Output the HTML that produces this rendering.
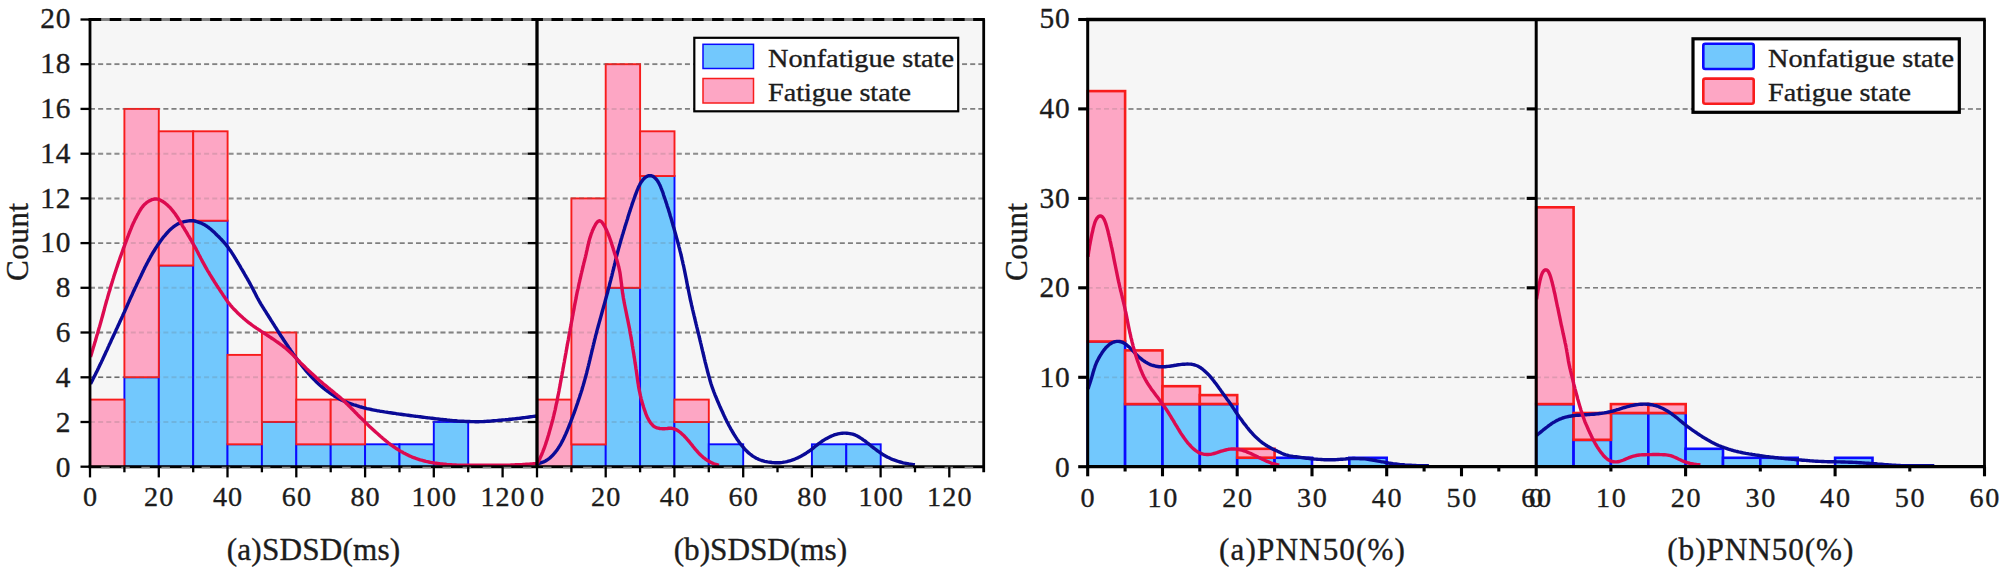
<!DOCTYPE html>
<html><head><meta charset="utf-8"><title>Histograms</title>
<style>
html,body{margin:0;padding:0;background:#fff;}
body{width:2007px;height:576px;overflow:hidden;}
svg text{font-family:"Liberation Serif", "DejaVu Serif", serif;fill:#1c1c1c;stroke:#1c1c1c;stroke-width:0.35px;}
.tk{font-size:28.2px;letter-spacing:1.6px;}
.tky{font-size:29.4px;letter-spacing:0.8px;}
.ti{font-size:31.2px;}
.lg{font-size:24.6px;}
</style></head><body>
<svg width="2007" height="576" viewBox="0 0 2007 576" style="display:block">
<rect width="2007" height="576" fill="#fff"/>
<rect x="90" y="19.5" width="893.7" height="447.2" fill="#f6f6f6"/>
<line x1="90" x2="983.7" y1="422.0" y2="422.0" stroke="#999" stroke-width="2" stroke-dasharray="5 3.15"/>
<line x1="90" x2="983.7" y1="377.3" y2="377.3" stroke="#6e6e6e" stroke-width="1.4" stroke-dasharray="5 3.15"/>
<line x1="90" x2="983.7" y1="332.5" y2="332.5" stroke="#8a8a8a" stroke-width="1.8" stroke-dasharray="5 3.15"/>
<line x1="90" x2="983.7" y1="287.8" y2="287.8" stroke="#999" stroke-width="2" stroke-dasharray="5 3.15"/>
<line x1="90" x2="983.7" y1="243.1" y2="243.1" stroke="#626262" stroke-width="1.2" stroke-dasharray="5 3.15"/>
<line x1="90" x2="983.7" y1="198.4" y2="198.4" stroke="#999" stroke-width="2" stroke-dasharray="5 3.15"/>
<line x1="90" x2="983.7" y1="153.7" y2="153.7" stroke="#999" stroke-width="2" stroke-dasharray="5 3.15"/>
<line x1="90" x2="983.7" y1="108.9" y2="108.9" stroke="#626262" stroke-width="1.2" stroke-dasharray="5 3.15"/>
<line x1="90" x2="983.7" y1="64.2" y2="64.2" stroke="#8a8a8a" stroke-width="1.8" stroke-dasharray="5 3.15"/>
<rect x="124.4" y="377.3" width="34.4" height="89.4" fill="#72c8fd" stroke="#0a0aff" stroke-width="1.9"/>
<rect x="158.8" y="265.5" width="34.4" height="201.2" fill="#72c8fd" stroke="#0a0aff" stroke-width="1.9"/>
<rect x="193.2" y="220.7" width="34.4" height="246.0" fill="#72c8fd" stroke="#0a0aff" stroke-width="1.9"/>
<rect x="227.5" y="444.3" width="34.4" height="22.4" fill="#72c8fd" stroke="#0a0aff" stroke-width="1.9"/>
<rect x="261.9" y="422.0" width="34.4" height="44.7" fill="#72c8fd" stroke="#0a0aff" stroke-width="1.9"/>
<rect x="296.3" y="444.3" width="34.4" height="22.4" fill="#72c8fd" stroke="#0a0aff" stroke-width="1.9"/>
<rect x="330.7" y="444.3" width="34.4" height="22.4" fill="#72c8fd" stroke="#0a0aff" stroke-width="1.9"/>
<rect x="365.1" y="444.3" width="34.4" height="22.4" fill="#72c8fd" stroke="#0a0aff" stroke-width="1.9"/>
<rect x="399.5" y="444.3" width="34.4" height="22.4" fill="#72c8fd" stroke="#0a0aff" stroke-width="1.9"/>
<rect x="433.8" y="422.0" width="34.4" height="44.7" fill="#72c8fd" stroke="#0a0aff" stroke-width="1.9"/>
<rect x="90.0" y="399.6" width="34.4" height="67.1" fill="#fda6c4" stroke="#f81c1c" stroke-width="1.9"/>
<rect x="124.4" y="108.9" width="34.4" height="268.3" fill="#fda6c4" stroke="#f81c1c" stroke-width="1.9"/>
<rect x="158.8" y="131.3" width="34.4" height="134.2" fill="#fda6c4" stroke="#f81c1c" stroke-width="1.9"/>
<rect x="193.2" y="131.3" width="34.4" height="89.4" fill="#fda6c4" stroke="#f81c1c" stroke-width="1.9"/>
<rect x="227.5" y="354.9" width="34.4" height="89.4" fill="#fda6c4" stroke="#f81c1c" stroke-width="1.9"/>
<rect x="261.9" y="332.5" width="34.4" height="89.4" fill="#fda6c4" stroke="#f81c1c" stroke-width="1.9"/>
<rect x="296.3" y="399.6" width="34.4" height="44.7" fill="#fda6c4" stroke="#f81c1c" stroke-width="1.9"/>
<rect x="330.7" y="399.6" width="34.4" height="44.7" fill="#fda6c4" stroke="#f81c1c" stroke-width="1.9"/>
<rect x="571.4" y="444.3" width="34.4" height="22.4" fill="#72c8fd" stroke="#0a0aff" stroke-width="1.9"/>
<rect x="605.7" y="287.8" width="34.4" height="178.9" fill="#72c8fd" stroke="#0a0aff" stroke-width="1.9"/>
<rect x="640.1" y="176.0" width="34.4" height="290.7" fill="#72c8fd" stroke="#0a0aff" stroke-width="1.9"/>
<rect x="674.4" y="422.0" width="34.4" height="44.7" fill="#72c8fd" stroke="#0a0aff" stroke-width="1.9"/>
<rect x="708.8" y="444.3" width="34.4" height="22.4" fill="#72c8fd" stroke="#0a0aff" stroke-width="1.9"/>
<rect x="811.9" y="444.3" width="34.4" height="22.4" fill="#72c8fd" stroke="#0a0aff" stroke-width="1.9"/>
<rect x="846.3" y="444.3" width="34.4" height="22.4" fill="#72c8fd" stroke="#0a0aff" stroke-width="1.9"/>
<rect x="537.0" y="399.6" width="34.4" height="67.1" fill="#fda6c4" stroke="#f81c1c" stroke-width="1.9"/>
<rect x="571.4" y="198.4" width="34.4" height="246.0" fill="#fda6c4" stroke="#f81c1c" stroke-width="1.9"/>
<rect x="605.7" y="64.2" width="34.4" height="223.6" fill="#fda6c4" stroke="#f81c1c" stroke-width="1.9"/>
<rect x="640.1" y="131.3" width="34.4" height="44.7" fill="#fda6c4" stroke="#f81c1c" stroke-width="1.9"/>
<rect x="674.4" y="399.6" width="34.4" height="22.4" fill="#fda6c4" stroke="#f81c1c" stroke-width="1.9"/>
<line x1="90" x2="983.7" y1="422.0" y2="422.0" stroke="#666" stroke-opacity="0.2" stroke-width="2" stroke-dasharray="5 3.15"/>
<line x1="90" x2="983.7" y1="377.3" y2="377.3" stroke="#666" stroke-opacity="0.2" stroke-width="2" stroke-dasharray="5 3.15"/>
<line x1="90" x2="983.7" y1="332.5" y2="332.5" stroke="#666" stroke-opacity="0.2" stroke-width="2" stroke-dasharray="5 3.15"/>
<line x1="90" x2="983.7" y1="287.8" y2="287.8" stroke="#666" stroke-opacity="0.2" stroke-width="2" stroke-dasharray="5 3.15"/>
<line x1="90" x2="983.7" y1="243.1" y2="243.1" stroke="#666" stroke-opacity="0.2" stroke-width="2" stroke-dasharray="5 3.15"/>
<line x1="90" x2="983.7" y1="198.4" y2="198.4" stroke="#666" stroke-opacity="0.2" stroke-width="2" stroke-dasharray="5 3.15"/>
<line x1="90" x2="983.7" y1="153.7" y2="153.7" stroke="#666" stroke-opacity="0.2" stroke-width="2" stroke-dasharray="5 3.15"/>
<line x1="90" x2="983.7" y1="108.9" y2="108.9" stroke="#666" stroke-opacity="0.2" stroke-width="2" stroke-dasharray="5 3.15"/>
<line x1="90" x2="983.7" y1="64.2" y2="64.2" stroke="#666" stroke-opacity="0.2" stroke-width="2" stroke-dasharray="5 3.15"/>
<path d="M90.5,383.9 L91.2,382.6 L91.9,381.2 L92.6,379.9 L93.2,378.6 L93.9,377.2 L94.6,375.9 L95.3,374.5 L95.9,373.2 L96.6,371.9 L97.3,370.5 L97.9,369.2 L98.6,367.8 L99.2,366.5 L99.9,365.1 L100.5,363.8 L101.2,362.4 L101.8,361.1 L102.5,359.7 L103.1,358.3 L103.7,357.0 L104.4,355.6 L105.0,354.3 L105.6,352.9 L106.2,351.5 L106.9,350.2 L107.5,348.8 L108.1,347.4 L108.7,346.1 L109.3,344.7 L110.0,343.3 L110.6,342.0 L111.2,340.6 L111.8,339.2 L112.5,337.9 L113.1,336.5 L113.7,335.2 L114.4,333.8 L115.0,332.4 L115.6,331.1 L116.2,329.7 L116.9,328.3 L117.5,327.0 L118.1,325.6 L118.8,324.3 L119.4,322.9 L120.0,321.5 L120.6,320.2 L121.3,318.8 L121.9,317.4 L122.5,316.1 L123.1,314.7 L123.7,313.3 L124.4,312.0 L125.0,310.6 L125.6,309.2 L126.2,307.9 L126.8,306.5 L127.4,305.1 L128.0,303.7 L128.6,302.4 L129.2,301.0 L129.8,299.6 L130.4,298.3 L131.0,296.9 L131.7,295.5 L132.3,294.2 L132.9,292.8 L133.5,291.4 L134.2,290.1 L134.8,288.7 L135.4,287.4 L136.1,286.0 L136.7,284.6 L137.3,283.3 L138.0,281.9 L138.6,280.6 L139.3,279.2 L139.9,277.9 L140.6,276.5 L141.2,275.2 L141.9,273.8 L142.5,272.4 L143.2,271.1 L143.8,269.7 L144.5,268.4 L145.1,267.0 L145.8,265.7 L146.5,264.4 L147.2,263.0 L147.9,261.7 L148.6,260.4 L149.3,259.1 L150.0,257.8 L150.7,256.4 L151.5,255.1 L152.2,253.8 L153.0,252.5 L153.8,251.3 L154.6,250.0 L155.4,248.7 L156.2,247.4 L157.0,246.2 L157.8,244.9 L158.7,243.7 L159.5,242.5 L160.4,241.2 L161.3,240.0 L162.2,238.8 L163.1,237.6 L164.0,236.4 L165.0,235.3 L166.0,234.1 L167.0,233.0 L168.0,231.9 L169.0,230.8 L170.1,229.8 L171.2,228.8 L172.4,227.8 L173.5,226.8 L174.8,225.9 L176.0,225.1 L177.3,224.3 L178.6,223.6 L179.9,223.0 L181.3,222.5 L182.7,222.1 L184.2,221.7 L185.7,221.4 L187.2,221.1 L188.6,220.9 L190.1,220.8 L191.6,220.7 L193.1,220.8 L194.6,221.0 L196.0,221.4 L197.5,221.8 L198.9,222.3 L200.3,222.8 L201.7,223.4 L203.1,224.1 L204.4,224.7 L205.6,225.5 L206.9,226.3 L208.1,227.1 L209.3,228.1 L210.5,229.0 L211.6,230.0 L212.7,231.0 L213.9,232.1 L215.0,233.1 L216.1,234.2 L217.1,235.2 L218.2,236.2 L219.3,237.3 L220.3,238.4 L221.4,239.5 L222.4,240.6 L223.4,241.7 L224.4,242.8 L225.4,244.0 L226.3,245.1 L227.3,246.3 L228.2,247.5 L229.0,248.7 L229.9,249.9 L230.8,251.1 L231.6,252.4 L232.4,253.6 L233.2,254.9 L234.0,256.2 L234.8,257.5 L235.6,258.7 L236.3,260.0 L237.1,261.3 L237.9,262.6 L238.6,263.9 L239.4,265.2 L240.2,266.5 L240.9,267.8 L241.7,269.1 L242.5,270.4 L243.2,271.7 L244.0,273.0 L244.7,274.3 L245.5,275.6 L246.2,276.9 L247.0,278.2 L247.7,279.5 L248.5,280.8 L249.2,282.1 L249.9,283.4 L250.6,284.7 L251.3,286.0 L252.0,287.4 L252.7,288.7 L253.4,290.0 L254.1,291.4 L254.8,292.7 L255.5,294.1 L256.1,295.4 L256.8,296.7 L257.5,298.0 L258.3,299.4 L259.0,300.7 L259.7,302.0 L260.5,303.3 L261.2,304.6 L262.0,305.8 L262.8,307.1 L263.6,308.4 L264.4,309.7 L265.2,310.9 L266.0,312.2 L266.8,313.5 L267.6,314.7 L268.4,316.0 L269.2,317.3 L270.0,318.5 L270.8,319.8 L271.6,321.1 L272.4,322.3 L273.2,323.6 L274.0,324.9 L274.8,326.2 L275.6,327.4 L276.4,328.7 L277.2,330.0 L278.0,331.2 L278.8,332.5 L279.6,333.8 L280.4,335.0 L281.2,336.3 L282.1,337.5 L282.9,338.8 L283.7,340.0 L284.5,341.3 L285.4,342.5 L286.2,343.8 L287.1,345.0 L287.9,346.3 L288.7,347.5 L289.6,348.7 L290.4,350.0 L291.3,351.2 L292.2,352.4 L293.0,353.7 L293.9,354.9 L294.7,356.1 L295.6,357.3 L296.5,358.6 L297.4,359.8 L298.3,361.0 L299.2,362.2 L300.1,363.4 L301.0,364.5 L301.9,365.7 L302.9,366.9 L303.8,368.1 L304.8,369.2 L305.7,370.4 L306.7,371.5 L307.7,372.6 L308.7,373.8 L309.7,374.9 L310.7,376.0 L311.7,377.1 L312.8,378.2 L313.8,379.3 L314.9,380.3 L315.9,381.4 L317.0,382.4 L318.1,383.5 L319.2,384.5 L320.3,385.5 L321.4,386.4 L322.6,387.4 L323.8,388.4 L324.9,389.3 L326.1,390.2 L327.3,391.1 L328.5,392.0 L329.7,392.9 L331.0,393.7 L332.2,394.6 L333.5,395.4 L334.7,396.3 L336.0,397.1 L337.3,397.8 L338.6,398.6 L339.9,399.3 L341.2,399.9 L342.6,400.5 L344.0,401.1 L345.4,401.7 L346.8,402.2 L348.2,402.8 L349.6,403.3 L351.0,403.8 L352.4,404.3 L353.8,404.8 L355.3,405.2 L356.7,405.7 L358.1,406.1 L359.6,406.6 L361.0,407.0 L362.4,407.4 L363.9,407.8 L365.3,408.2 L366.8,408.6 L368.3,408.9 L369.7,409.2 L371.2,409.5 L372.6,409.8 L374.1,410.1 L375.6,410.4 L377.1,410.7 L378.5,410.9 L380.0,411.2 L381.5,411.4 L383.0,411.6 L384.5,411.9 L386.0,412.1 L387.4,412.3 L388.9,412.6 L390.4,412.8 L391.9,413.0 L393.4,413.2 L394.9,413.4 L396.4,413.7 L397.8,413.9 L399.3,414.1 L400.8,414.3 L402.3,414.5 L403.8,414.7 L405.3,414.9 L406.8,415.1 L408.2,415.3 L409.7,415.5 L411.2,415.7 L412.7,415.9 L414.2,416.1 L415.7,416.3 L417.2,416.4 L418.7,416.6 L420.1,416.8 L421.6,417.0 L423.1,417.2 L424.6,417.4 L426.1,417.6 L427.6,417.8 L429.1,417.9 L430.6,418.1 L432.1,418.3 L433.5,418.5 L435.0,418.7 L436.5,418.9 L438.0,419.0 L439.5,419.2 L441.0,419.4 L442.5,419.5 L444.0,419.7 L445.5,419.8 L447.0,420.0 L448.5,420.1 L449.9,420.3 L451.4,420.4 L452.9,420.6 L454.4,420.7 L455.9,420.8 L457.4,421.0 L458.9,421.1 L460.4,421.2 L461.9,421.3 L463.4,421.3 L464.9,421.4 L466.4,421.5 L467.9,421.5 L469.4,421.5 L470.9,421.6 L472.4,421.6 L473.9,421.6 L475.4,421.7 L476.9,421.7 L478.4,421.7 L479.9,421.6 L481.4,421.6 L482.9,421.6 L484.4,421.5 L485.9,421.4 L487.4,421.3 L488.9,421.2 L490.4,421.1 L491.9,420.9 L493.4,420.8 L494.9,420.7 L496.4,420.6 L497.9,420.4 L499.3,420.3 L500.8,420.2 L502.3,420.0 L503.8,419.9 L505.3,419.8 L506.8,419.6 L508.3,419.5 L509.8,419.3 L511.3,419.2 L512.8,419.0 L514.3,418.9 L515.8,418.7 L517.3,418.5 L518.8,418.4 L520.2,418.2 L521.7,418.0 L523.2,417.8 L524.7,417.6 L526.2,417.4 L527.7,417.2 L529.2,417.0 L530.7,416.8 L532.1,416.6 L533.6,416.4 L535.1,416.2 L536.6,416.0" fill="none" stroke="#0a0a96" stroke-width="3.4" stroke-linejoin="round" stroke-linecap="butt"/>
<path d="M90.5,357.0 L90.9,355.6 L91.4,354.1 L91.8,352.7 L92.2,351.3 L92.7,349.8 L93.1,348.4 L93.5,346.9 L94.0,345.5 L94.4,344.1 L94.8,342.6 L95.3,341.2 L95.7,339.8 L96.1,338.3 L96.5,336.9 L96.9,335.4 L97.4,334.0 L97.8,332.6 L98.2,331.1 L98.6,329.7 L99.0,328.2 L99.5,326.8 L99.9,325.4 L100.3,323.9 L100.7,322.5 L101.1,321.0 L101.5,319.6 L101.9,318.1 L102.3,316.7 L102.7,315.2 L103.1,313.8 L103.5,312.3 L103.9,310.9 L104.3,309.5 L104.6,308.0 L105.0,306.6 L105.4,305.1 L105.8,303.7 L106.2,302.2 L106.6,300.8 L107.1,299.3 L107.5,297.9 L107.9,296.4 L108.3,295.0 L108.7,293.6 L109.1,292.1 L109.6,290.7 L110.0,289.2 L110.4,287.8 L110.8,286.4 L111.3,284.9 L111.7,283.5 L112.2,282.1 L112.6,280.6 L113.0,279.2 L113.5,277.8 L113.9,276.3 L114.4,274.9 L114.8,273.5 L115.3,272.1 L115.8,270.6 L116.2,269.2 L116.7,267.8 L117.2,266.4 L117.7,264.9 L118.1,263.5 L118.6,262.1 L119.1,260.7 L119.6,259.3 L120.1,257.8 L120.6,256.4 L121.1,255.0 L121.6,253.6 L122.1,252.2 L122.6,250.8 L123.1,249.4 L123.6,247.9 L124.2,246.5 L124.7,245.1 L125.2,243.7 L125.7,242.3 L126.3,240.9 L126.8,239.5 L127.3,238.1 L127.9,236.7 L128.4,235.3 L128.9,233.9 L129.5,232.5 L130.0,231.1 L130.6,229.7 L131.2,228.3 L131.7,226.9 L132.3,225.5 L132.9,224.1 L133.5,222.8 L134.2,221.4 L134.8,220.1 L135.5,218.7 L136.2,217.4 L136.9,216.0 L137.6,214.7 L138.4,213.3 L139.1,212.0 L139.9,210.6 L140.7,209.3 L141.6,208.0 L142.5,206.8 L143.4,205.7 L144.4,204.6 L145.4,203.7 L146.5,202.7 L147.7,201.9 L149.0,201.1 L150.3,200.4 L151.7,199.7 L153.1,199.3 L154.5,199.0 L155.9,198.9 L157.3,199.1 L158.7,199.4 L160.1,200.0 L161.4,200.7 L162.8,201.5 L164.0,202.3 L165.2,203.2 L166.4,204.2 L167.5,205.1 L168.6,206.2 L169.7,207.2 L170.7,208.3 L171.7,209.5 L172.6,210.7 L173.6,211.9 L174.5,213.1 L175.4,214.3 L176.2,215.5 L177.1,216.8 L177.9,218.0 L178.7,219.3 L179.5,220.6 L180.3,221.9 L181.0,223.2 L181.8,224.5 L182.5,225.8 L183.3,227.1 L184.1,228.3 L184.8,229.6 L185.6,230.9 L186.4,232.2 L187.2,233.5 L187.9,234.8 L188.7,236.1 L189.5,237.4 L190.2,238.7 L191.0,240.0 L191.7,241.3 L192.5,242.6 L193.2,243.9 L193.9,245.2 L194.6,246.5 L195.4,247.8 L196.1,249.1 L196.8,250.5 L197.5,251.8 L198.1,253.1 L198.8,254.5 L199.5,255.8 L200.2,257.1 L200.9,258.5 L201.6,259.8 L202.3,261.1 L203.0,262.4 L203.7,263.7 L204.5,265.1 L205.2,266.4 L205.9,267.7 L206.7,269.0 L207.4,270.3 L208.2,271.6 L209.0,272.8 L209.7,274.1 L210.5,275.4 L211.3,276.7 L212.1,278.0 L212.9,279.3 L213.7,280.5 L214.4,281.8 L215.3,283.1 L216.1,284.3 L216.9,285.6 L217.7,286.8 L218.5,288.1 L219.4,289.3 L220.2,290.6 L221.0,291.8 L221.9,293.1 L222.7,294.3 L223.5,295.6 L224.3,296.8 L225.2,298.1 L226.0,299.3 L226.9,300.6 L227.7,301.8 L228.6,303.0 L229.6,304.1 L230.5,305.3 L231.5,306.4 L232.5,307.6 L233.5,308.7 L234.6,309.8 L235.6,310.8 L236.7,311.9 L237.7,313.0 L238.8,314.0 L239.9,315.0 L241.0,316.1 L242.1,317.1 L243.2,318.1 L244.4,319.0 L245.5,320.0 L246.7,321.0 L247.8,321.9 L249.0,322.8 L250.2,323.7 L251.4,324.6 L252.6,325.5 L253.8,326.4 L255.1,327.2 L256.3,328.1 L257.6,328.9 L258.8,329.7 L260.1,330.5 L261.3,331.4 L262.6,332.2 L263.9,333.0 L265.1,333.8 L266.4,334.7 L267.6,335.5 L268.9,336.3 L270.1,337.1 L271.4,338.0 L272.6,338.8 L273.9,339.6 L275.1,340.5 L276.3,341.4 L277.6,342.2 L278.8,343.1 L280.0,344.0 L281.2,344.9 L282.4,345.7 L283.6,346.7 L284.8,347.6 L286.0,348.5 L287.1,349.5 L288.2,350.5 L289.3,351.5 L290.4,352.5 L291.5,353.5 L292.6,354.6 L293.6,355.6 L294.7,356.7 L295.7,357.8 L296.8,358.9 L297.8,360.0 L298.9,361.0 L299.9,362.1 L301.0,363.2 L302.1,364.2 L303.1,365.3 L304.2,366.3 L305.3,367.4 L306.3,368.4 L307.4,369.4 L308.5,370.5 L309.6,371.5 L310.7,372.5 L311.8,373.6 L312.9,374.6 L314.0,375.6 L315.1,376.6 L316.2,377.6 L317.4,378.6 L318.5,379.6 L319.6,380.6 L320.8,381.5 L321.9,382.5 L323.0,383.5 L324.2,384.5 L325.3,385.4 L326.5,386.4 L327.6,387.3 L328.8,388.3 L330.0,389.2 L331.1,390.2 L332.3,391.1 L333.5,392.1 L334.6,393.0 L335.8,394.0 L337.0,394.9 L338.1,395.9 L339.3,396.8 L340.4,397.8 L341.5,398.8 L342.7,399.8 L343.8,400.8 L344.8,401.8 L345.9,402.9 L347.0,403.9 L348.1,405.0 L349.1,406.0 L350.2,407.1 L351.2,408.2 L352.3,409.2 L353.3,410.3 L354.4,411.4 L355.4,412.5 L356.5,413.5 L357.5,414.6 L358.6,415.7 L359.6,416.7 L360.7,417.8 L361.8,418.8 L362.9,419.9 L363.9,420.9 L365.0,422.0 L366.1,423.0 L367.2,424.1 L368.2,425.1 L369.3,426.2 L370.4,427.2 L371.5,428.2 L372.6,429.2 L373.7,430.2 L374.8,431.3 L375.9,432.3 L377.1,433.3 L378.2,434.2 L379.3,435.2 L380.4,436.2 L381.6,437.2 L382.7,438.2 L383.9,439.2 L385.0,440.1 L386.2,441.1 L387.4,442.0 L388.5,443.0 L389.7,443.9 L390.9,444.8 L392.1,445.6 L393.4,446.5 L394.6,447.3 L395.8,448.2 L397.1,449.0 L398.4,449.8 L399.6,450.6 L400.9,451.4 L402.2,452.1 L403.6,452.9 L404.9,453.6 L406.2,454.3 L407.6,454.9 L408.9,455.6 L410.3,456.2 L411.7,456.8 L413.0,457.3 L414.4,457.8 L415.8,458.4 L417.3,458.9 L418.7,459.3 L420.1,459.8 L421.6,460.2 L423.0,460.6 L424.5,461.0 L425.9,461.4 L427.4,461.7 L428.9,462.0 L430.3,462.3 L431.8,462.6 L433.3,462.8 L434.8,463.1 L436.2,463.3 L437.7,463.5 L439.2,463.7 L440.7,463.9 L442.2,464.0 L443.7,464.2 L445.2,464.3 L446.7,464.5 L448.2,464.6 L449.7,464.7 L451.2,464.8 L452.7,464.9 L454.2,464.9 L455.7,465.0 L457.2,465.1 L458.7,465.2 L460.2,465.2 L461.7,465.2 L463.2,465.3 L464.7,465.3 L466.2,465.3 L467.7,465.3 L469.2,465.3 L470.7,465.3 L472.2,465.3 L473.7,465.3 L475.2,465.3 L476.7,465.3 L478.2,465.3 L479.7,465.3 L481.2,465.3 L482.7,465.3 L484.2,465.3 L485.7,465.3 L487.2,465.3 L488.7,465.3 L490.2,465.3 L491.7,465.3 L493.2,465.3 L494.7,465.3 L496.2,465.3 L497.7,465.3 L499.2,465.3 L500.7,465.3 L502.2,465.3 L503.7,465.2 L505.2,465.2 L506.7,465.2 L508.2,465.1 L509.7,465.1 L511.2,465.0 L512.7,465.0 L514.2,464.9 L515.7,464.8 L517.2,464.8 L518.7,464.7 L520.2,464.6 L521.7,464.6 L523.2,464.5 L524.6,464.4 L526.1,464.3 L527.6,464.2 L529.1,464.1 L530.6,464.0 L532.1,463.9 L533.6,463.8 L535.1,463.7 L536.6,463.6" fill="none" stroke="#dc0a50" stroke-width="3.4" stroke-linejoin="round" stroke-linecap="butt"/>
<path d="M537.0,464.0 L538.5,463.6 L540.0,463.2 L541.4,462.7 L542.8,462.2 L544.2,461.6 L545.5,461.0 L546.7,460.2 L548.0,459.4 L549.2,458.5 L550.3,457.6 L551.4,456.5 L552.5,455.5 L553.5,454.3 L554.5,453.2 L555.4,452.1 L556.3,450.9 L557.2,449.7 L558.1,448.4 L558.9,447.1 L559.7,445.9 L560.5,444.6 L561.2,443.3 L561.9,441.9 L562.6,440.6 L563.3,439.3 L563.9,438.0 L564.6,436.6 L565.2,435.2 L565.8,433.9 L566.4,432.5 L567.0,431.1 L567.6,429.7 L568.1,428.3 L568.7,426.9 L569.3,425.5 L569.8,424.1 L570.4,422.7 L570.9,421.3 L571.4,419.9 L572.0,418.5 L572.5,417.1 L573.0,415.7 L573.6,414.3 L574.1,412.9 L574.6,411.5 L575.1,410.1 L575.6,408.7 L576.1,407.2 L576.6,405.8 L577.1,404.4 L577.6,403.0 L578.0,401.6 L578.5,400.1 L579.0,398.7 L579.5,397.3 L579.9,395.9 L580.4,394.4 L580.9,393.0 L581.3,391.6 L581.8,390.2 L582.2,388.7 L582.6,387.3 L583.1,385.8 L583.5,384.4 L583.9,383.0 L584.3,381.5 L584.7,380.1 L585.1,378.6 L585.5,377.2 L585.9,375.8 L586.3,374.3 L586.7,372.9 L587.0,371.4 L587.4,369.9 L587.8,368.5 L588.1,367.0 L588.5,365.6 L588.8,364.1 L589.2,362.7 L589.5,361.2 L589.9,359.7 L590.2,358.3 L590.6,356.8 L590.9,355.4 L591.3,353.9 L591.6,352.4 L592.0,351.0 L592.3,349.5 L592.7,348.1 L593.0,346.6 L593.4,345.1 L593.7,343.7 L594.1,342.2 L594.4,340.8 L594.8,339.3 L595.2,337.9 L595.5,336.4 L595.9,334.9 L596.3,333.5 L596.7,332.0 L597.0,330.6 L597.4,329.1 L597.8,327.7 L598.2,326.2 L598.6,324.8 L599.0,323.4 L599.4,321.9 L599.8,320.5 L600.2,319.0 L600.6,317.6 L601.0,316.1 L601.4,314.7 L601.8,313.2 L602.2,311.8 L602.6,310.3 L603.0,308.9 L603.4,307.5 L603.8,306.0 L604.2,304.6 L604.6,303.1 L605.0,301.7 L605.4,300.2 L605.8,298.8 L606.2,297.3 L606.6,295.9 L607.0,294.4 L607.4,293.0 L607.8,291.5 L608.1,290.1 L608.5,288.6 L608.9,287.2 L609.3,285.7 L609.6,284.3 L610.0,282.8 L610.4,281.4 L610.8,279.9 L611.1,278.5 L611.5,277.0 L611.9,275.6 L612.2,274.1 L612.6,272.6 L612.9,271.2 L613.3,269.7 L613.7,268.3 L614.0,266.8 L614.4,265.4 L614.7,263.9 L615.1,262.4 L615.4,261.0 L615.8,259.5 L616.1,258.1 L616.5,256.6 L616.8,255.2 L617.2,253.7 L617.6,252.2 L618.0,250.8 L618.4,249.4 L618.8,247.9 L619.2,246.5 L619.6,245.0 L620.0,243.6 L620.4,242.1 L620.8,240.7 L621.2,239.3 L621.7,237.8 L622.1,236.4 L622.5,234.9 L623.0,233.5 L623.4,232.1 L623.8,230.6 L624.3,229.2 L624.7,227.8 L625.1,226.3 L625.6,224.9 L626.0,223.5 L626.5,222.0 L626.9,220.6 L627.4,219.2 L627.8,217.7 L628.2,216.3 L628.7,214.9 L629.1,213.4 L629.6,212.0 L630.1,210.6 L630.5,209.1 L631.0,207.7 L631.5,206.3 L631.9,204.9 L632.4,203.4 L632.9,202.0 L633.4,200.6 L633.9,199.2 L634.4,197.8 L634.9,196.4 L635.4,194.9 L636.0,193.5 L636.5,192.1 L637.0,190.7 L637.6,189.3 L638.2,187.9 L638.8,186.5 L639.5,185.2 L640.1,183.9 L640.9,182.6 L641.7,181.4 L642.6,180.2 L643.6,179.0 L644.6,178.0 L645.8,177.1 L647.0,176.4 L648.3,175.8 L649.7,175.6 L651.0,175.7 L652.3,176.1 L653.6,176.8 L654.7,177.7 L655.8,178.7 L656.7,179.8 L657.6,181.0 L658.4,182.3 L659.1,183.6 L659.7,184.9 L660.4,186.2 L660.9,187.6 L661.5,189.0 L662.0,190.4 L662.6,191.8 L663.1,193.3 L663.5,194.7 L664.0,196.2 L664.5,197.6 L665.0,199.0 L665.5,200.5 L665.9,201.9 L666.4,203.3 L666.9,204.8 L667.3,206.2 L667.8,207.6 L668.3,209.0 L668.7,210.5 L669.1,211.9 L669.6,213.3 L670.0,214.8 L670.4,216.2 L670.9,217.7 L671.3,219.1 L671.7,220.5 L672.1,222.0 L672.5,223.4 L672.9,224.9 L673.3,226.3 L673.8,227.8 L674.2,229.2 L674.6,230.6 L675.0,232.1 L675.4,233.5 L675.8,235.0 L676.2,236.4 L676.6,237.9 L677.0,239.3 L677.4,240.8 L677.8,242.2 L678.2,243.7 L678.6,245.1 L678.9,246.6 L679.3,248.0 L679.7,249.5 L680.0,250.9 L680.4,252.4 L680.8,253.8 L681.1,255.3 L681.5,256.8 L681.8,258.2 L682.1,259.7 L682.5,261.1 L682.8,262.6 L683.1,264.1 L683.5,265.5 L683.8,267.0 L684.1,268.5 L684.4,269.9 L684.7,271.4 L685.0,272.9 L685.3,274.3 L685.6,275.8 L685.9,277.3 L686.2,278.8 L686.5,280.2 L686.7,281.7 L687.0,283.2 L687.3,284.6 L687.6,286.1 L687.9,287.6 L688.2,289.1 L688.5,290.5 L688.8,292.0 L689.1,293.5 L689.4,294.9 L689.7,296.4 L690.0,297.9 L690.3,299.3 L690.6,300.8 L691.0,302.3 L691.3,303.7 L691.6,305.2 L692.0,306.7 L692.3,308.1 L692.6,309.6 L693.0,311.0 L693.3,312.5 L693.7,314.0 L694.0,315.4 L694.4,316.9 L694.7,318.3 L695.1,319.8 L695.4,321.2 L695.8,322.7 L696.1,324.2 L696.5,325.6 L696.8,327.1 L697.2,328.5 L697.5,330.0 L697.9,331.5 L698.3,332.9 L698.6,334.4 L699.0,335.8 L699.3,337.3 L699.7,338.7 L700.0,340.2 L700.4,341.7 L700.7,343.1 L701.1,344.6 L701.4,346.0 L701.7,347.5 L702.1,349.0 L702.4,350.4 L702.8,351.9 L703.1,353.3 L703.5,354.8 L703.8,356.3 L704.2,357.7 L704.5,359.2 L704.9,360.6 L705.2,362.1 L705.6,363.6 L706.0,365.0 L706.3,366.5 L706.7,367.9 L707.1,369.4 L707.4,370.8 L707.8,372.3 L708.2,373.7 L708.6,375.2 L709.0,376.6 L709.4,378.1 L709.8,379.5 L710.2,381.0 L710.6,382.4 L711.0,383.8 L711.5,385.3 L712.0,386.7 L712.5,388.1 L713.0,389.5 L713.5,390.9 L714.0,392.3 L714.6,393.7 L715.1,395.1 L715.7,396.5 L716.3,397.9 L716.8,399.3 L717.4,400.6 L718.0,402.0 L718.6,403.4 L719.2,404.8 L719.8,406.2 L720.4,407.5 L721.0,408.9 L721.6,410.3 L722.3,411.6 L722.9,413.0 L723.5,414.4 L724.1,415.7 L724.8,417.1 L725.4,418.5 L726.1,419.8 L726.7,421.2 L727.4,422.5 L728.1,423.8 L728.8,425.2 L729.5,426.5 L730.2,427.8 L730.9,429.1 L731.7,430.4 L732.4,431.7 L733.2,433.0 L734.0,434.3 L734.8,435.6 L735.6,436.9 L736.4,438.1 L737.2,439.4 L738.1,440.6 L738.9,441.8 L739.8,443.0 L740.7,444.2 L741.7,445.4 L742.6,446.6 L743.6,447.7 L744.6,448.9 L745.6,450.0 L746.7,451.0 L747.7,452.1 L748.9,453.1 L750.0,454.0 L751.2,454.9 L752.4,455.8 L753.6,456.6 L754.9,457.4 L756.2,458.2 L757.6,458.8 L758.9,459.5 L760.3,460.0 L761.7,460.5 L763.2,460.9 L764.6,461.3 L766.1,461.6 L767.6,461.9 L769.0,462.1 L770.5,462.3 L772.0,462.5 L773.5,462.6 L775.0,462.7 L776.5,462.8 L778.0,462.8 L779.5,462.7 L781.0,462.6 L782.5,462.4 L784.0,462.1 L785.5,461.9 L786.9,461.6 L788.4,461.2 L789.8,460.8 L791.2,460.4 L792.7,459.9 L794.1,459.4 L795.5,458.8 L796.8,458.2 L798.2,457.6 L799.5,456.9 L800.9,456.2 L802.2,455.5 L803.5,454.8 L804.8,454.0 L806.1,453.2 L807.3,452.4 L808.6,451.5 L809.8,450.7 L811.0,449.8 L812.2,448.9 L813.4,447.9 L814.5,447.0 L815.7,446.0 L816.9,445.1 L818.0,444.2 L819.2,443.3 L820.5,442.4 L821.7,441.5 L822.9,440.7 L824.2,439.9 L825.5,439.1 L826.8,438.4 L828.1,437.7 L829.5,437.0 L830.8,436.4 L832.2,435.8 L833.6,435.2 L835.0,434.7 L836.4,434.3 L837.9,433.9 L839.4,433.6 L840.8,433.4 L842.3,433.2 L843.8,433.1 L845.3,433.1 L846.8,433.2 L848.3,433.4 L849.8,433.6 L851.2,433.9 L852.7,434.2 L854.1,434.7 L855.5,435.2 L856.8,435.8 L858.1,436.5 L859.4,437.3 L860.7,438.1 L862.0,438.9 L863.2,439.8 L864.5,440.7 L865.7,441.5 L866.8,442.5 L868.0,443.4 L869.2,444.4 L870.3,445.3 L871.5,446.3 L872.7,447.2 L873.9,448.1 L875.1,449.0 L876.3,449.9 L877.5,450.8 L878.7,451.7 L879.9,452.5 L881.2,453.4 L882.4,454.2 L883.7,455.0 L885.0,455.7 L886.3,456.4 L887.7,457.2 L889.0,457.8 L890.4,458.5 L891.7,459.1 L893.1,459.7 L894.5,460.2 L895.9,460.7 L897.3,461.2 L898.8,461.6 L900.2,462.0 L901.7,462.4 L903.1,462.8 L904.6,463.1 L906.0,463.4 L907.5,463.7 L909.0,464.0 L910.5,464.2 L911.9,464.4 L913.4,464.6 L914.9,464.8" fill="none" stroke="#0a0a96" stroke-width="3.4" stroke-linejoin="round" stroke-linecap="butt"/>
<path d="M537.0,464.0 L537.7,462.7 L538.4,461.3 L539.1,460.0 L539.8,458.7 L540.4,457.3 L541.0,456.0 L541.7,454.6 L542.2,453.2 L542.8,451.8 L543.3,450.4 L543.9,449.0 L544.4,447.6 L544.9,446.2 L545.4,444.8 L545.9,443.4 L546.3,441.9 L546.8,440.5 L547.3,439.1 L547.7,437.6 L548.1,436.2 L548.6,434.8 L549.0,433.3 L549.4,431.9 L549.8,430.4 L550.2,429.0 L550.6,427.6 L551.0,426.1 L551.4,424.7 L551.8,423.2 L552.2,421.8 L552.6,420.3 L553.0,418.9 L553.3,417.4 L553.7,415.9 L554.0,414.5 L554.4,413.0 L554.7,411.6 L555.1,410.1 L555.4,408.6 L555.7,407.2 L556.0,405.7 L556.3,404.2 L556.7,402.8 L557.0,401.3 L557.3,399.8 L557.5,398.4 L557.8,396.9 L558.1,395.4 L558.4,394.0 L558.7,392.5 L559.0,391.0 L559.2,389.5 L559.5,388.1 L559.8,386.6 L560.1,385.1 L560.3,383.6 L560.6,382.1 L560.9,380.7 L561.1,379.2 L561.4,377.7 L561.7,376.2 L562.0,374.8 L562.2,373.3 L562.5,371.8 L562.8,370.3 L563.0,368.9 L563.3,367.4 L563.6,365.9 L563.8,364.4 L564.1,363.0 L564.4,361.5 L564.6,360.0 L564.9,358.5 L565.2,357.1 L565.4,355.6 L565.7,354.1 L566.0,352.6 L566.2,351.2 L566.5,349.7 L566.8,348.2 L567.0,346.7 L567.3,345.2 L567.5,343.8 L567.8,342.3 L568.1,340.8 L568.4,339.3 L568.6,337.9 L568.9,336.4 L569.2,334.9 L569.4,333.4 L569.7,332.0 L570.0,330.5 L570.2,329.0 L570.5,327.5 L570.8,326.1 L571.1,324.6 L571.3,323.1 L571.6,321.6 L571.9,320.2 L572.2,318.7 L572.4,317.2 L572.7,315.7 L573.0,314.3 L573.2,312.8 L573.5,311.3 L573.8,309.8 L574.1,308.4 L574.3,306.9 L574.6,305.4 L574.9,303.9 L575.2,302.5 L575.5,301.0 L575.8,299.5 L576.1,298.1 L576.3,296.6 L576.6,295.1 L576.9,293.6 L577.2,292.2 L577.5,290.7 L577.9,289.2 L578.2,287.8 L578.5,286.3 L578.8,284.8 L579.1,283.4 L579.5,281.9 L579.8,280.4 L580.1,279.0 L580.5,277.5 L580.8,276.1 L581.1,274.6 L581.5,273.1 L581.8,271.7 L582.2,270.2 L582.5,268.8 L582.9,267.3 L583.2,265.8 L583.6,264.4 L583.9,262.9 L584.3,261.5 L584.7,260.0 L585.0,258.6 L585.4,257.1 L585.7,255.6 L586.1,254.2 L586.4,252.7 L586.7,251.2 L587.1,249.7 L587.4,248.2 L587.7,246.8 L588.1,245.3 L588.4,243.8 L588.8,242.3 L589.1,240.9 L589.5,239.4 L589.9,238.0 L590.4,236.6 L590.8,235.2 L591.3,233.7 L591.9,232.3 L592.4,230.8 L593.1,229.3 L593.8,227.7 L594.6,226.2 L595.4,224.7 L596.2,223.4 L597.1,222.2 L597.9,221.4 L598.8,220.9 L599.7,220.8 L600.5,221.1 L601.4,221.7 L602.3,222.7 L603.2,223.9 L604.0,225.3 L604.8,226.8 L605.6,228.3 L606.3,229.8 L607.0,231.3 L607.6,232.7 L608.2,234.1 L608.8,235.5 L609.3,236.9 L609.8,238.3 L610.3,239.7 L610.8,241.1 L611.3,242.6 L611.7,244.0 L612.2,245.5 L612.6,246.9 L613.1,248.3 L613.5,249.8 L614.0,251.2 L614.4,252.6 L614.9,254.1 L615.4,255.5 L615.8,256.9 L616.3,258.4 L616.8,259.8 L617.2,261.2 L617.6,262.7 L618.0,264.1 L618.4,265.6 L618.8,267.0 L619.1,268.5 L619.4,269.9 L619.7,271.4 L620.0,272.9 L620.2,274.3 L620.4,275.8 L620.6,277.3 L620.8,278.8 L621.0,280.3 L621.2,281.8 L621.4,283.3 L621.6,284.8 L621.7,286.3 L621.9,287.7 L622.1,289.2 L622.3,290.7 L622.5,292.2 L622.7,293.7 L623.0,295.2 L623.2,296.7 L623.4,298.1 L623.7,299.6 L624.0,301.1 L624.2,302.6 L624.5,304.0 L624.8,305.5 L625.1,307.0 L625.4,308.5 L625.7,309.9 L626.0,311.4 L626.3,312.9 L626.6,314.3 L626.9,315.8 L627.2,317.3 L627.5,318.7 L627.8,320.2 L628.1,321.7 L628.4,323.2 L628.7,324.6 L629.0,326.1 L629.3,327.6 L629.6,329.0 L629.8,330.5 L630.1,332.0 L630.3,333.5 L630.6,335.0 L630.9,336.4 L631.1,337.9 L631.4,339.4 L631.6,340.9 L631.9,342.3 L632.1,343.8 L632.3,345.3 L632.6,346.8 L632.8,348.3 L633.1,349.8 L633.3,351.2 L633.5,352.7 L633.8,354.2 L634.0,355.7 L634.2,357.2 L634.5,358.6 L634.7,360.1 L634.9,361.6 L635.1,363.1 L635.4,364.6 L635.6,366.1 L635.8,367.5 L636.0,369.0 L636.3,370.5 L636.5,372.0 L636.7,373.5 L636.9,375.0 L637.1,376.5 L637.3,377.9 L637.5,379.4 L637.7,380.9 L637.9,382.4 L638.2,383.9 L638.4,385.4 L638.6,386.8 L638.9,388.3 L639.2,389.8 L639.5,391.3 L639.8,392.7 L640.1,394.2 L640.4,395.7 L640.8,397.1 L641.1,398.6 L641.5,400.0 L641.9,401.5 L642.3,402.9 L642.7,404.4 L643.2,405.8 L643.6,407.2 L644.1,408.7 L644.6,410.1 L645.1,411.5 L645.6,413.0 L646.1,414.4 L646.7,415.8 L647.3,417.2 L648.0,418.5 L648.7,419.8 L649.5,421.1 L650.3,422.4 L651.2,423.6 L652.2,424.7 L653.2,425.8 L654.4,426.7 L655.6,427.3 L656.9,427.9 L658.3,428.2 L659.8,428.5 L661.3,428.6 L662.8,428.7 L664.3,428.7 L665.8,428.6 L667.3,428.5 L668.8,428.3 L670.3,428.3 L671.7,428.3 L673.1,428.6 L674.5,429.0 L675.9,429.6 L677.2,430.3 L678.5,431.1 L679.7,432.0 L680.9,432.9 L682.0,433.9 L683.1,434.9 L684.2,436.0 L685.2,437.1 L686.2,438.2 L687.2,439.3 L688.2,440.5 L689.2,441.6 L690.1,442.8 L691.1,444.0 L692.0,445.1 L692.9,446.3 L693.9,447.5 L694.8,448.7 L695.8,449.8 L696.8,450.9 L697.8,452.1 L698.8,453.2 L699.8,454.2 L700.9,455.3 L702.0,456.3 L703.1,457.3 L704.3,458.2 L705.5,459.1 L706.7,460.0 L708.0,460.8 L709.3,461.5 L710.6,462.2 L711.9,462.9 L713.3,463.5 L714.7,464.0 L716.1,464.5 L717.6,464.9 L719.0,465.3" fill="none" stroke="#dc0a50" stroke-width="3.4" stroke-linejoin="round" stroke-linecap="butt"/>
<line x1="88.5" x2="984.9000000000001" y1="19.5" y2="19.5" stroke="#000" stroke-width="2.8"/>
<line x1="88.5" x2="984.9000000000001" y1="466.7" y2="466.7" stroke="#000" stroke-width="2.9"/>
<line x1="91.5" x2="983.7" y1="19.5" y2="19.5" stroke="#858585" stroke-width="3.2" stroke-dasharray="8.5 11.58" stroke-dashoffset="10.38"/>
<line x1="91.5" x2="983.7" y1="467.5" y2="467.5" stroke="#858585" stroke-width="1.5" stroke-dasharray="8.5 11.58" stroke-dashoffset="10.38"/>
<line x1="90" x2="90" y1="19.5" y2="466.7" stroke="#000" stroke-width="2.8"/>
<line x1="537" x2="537" y1="19.5" y2="466.7" stroke="#000" stroke-width="3.3"/>
<line x1="983.7" x2="983.7" y1="19.5" y2="472.2" stroke="#000" stroke-width="2.8"/>
<line x1="80.5" x2="90" y1="466.7" y2="466.7" stroke="#000" stroke-width="2.3"/>
<text x="71.3" y="476.7" text-anchor="end" class="tky">0</text>
<line x1="80.5" x2="90" y1="422.0" y2="422.0" stroke="#000" stroke-width="2.3"/>
<line x1="527.5" x2="537" y1="422.0" y2="422.0" stroke="#000" stroke-width="2.3"/>
<text x="71.3" y="431.8" text-anchor="end" class="tky">2</text>
<line x1="80.5" x2="90" y1="377.3" y2="377.3" stroke="#000" stroke-width="2.3"/>
<line x1="527.5" x2="537" y1="377.3" y2="377.3" stroke="#000" stroke-width="2.3"/>
<text x="71.3" y="387.0" text-anchor="end" class="tky">4</text>
<line x1="80.5" x2="90" y1="332.5" y2="332.5" stroke="#000" stroke-width="2.3"/>
<line x1="527.5" x2="537" y1="332.5" y2="332.5" stroke="#000" stroke-width="2.3"/>
<text x="71.3" y="342.1" text-anchor="end" class="tky">6</text>
<line x1="80.5" x2="90" y1="287.8" y2="287.8" stroke="#000" stroke-width="2.3"/>
<line x1="527.5" x2="537" y1="287.8" y2="287.8" stroke="#000" stroke-width="2.3"/>
<text x="71.3" y="297.2" text-anchor="end" class="tky">8</text>
<line x1="80.5" x2="90" y1="243.1" y2="243.1" stroke="#000" stroke-width="2.3"/>
<line x1="527.5" x2="537" y1="243.1" y2="243.1" stroke="#000" stroke-width="2.3"/>
<text x="71.3" y="252.3" text-anchor="end" class="tky">10</text>
<line x1="80.5" x2="90" y1="198.4" y2="198.4" stroke="#000" stroke-width="2.3"/>
<line x1="527.5" x2="537" y1="198.4" y2="198.4" stroke="#000" stroke-width="2.3"/>
<text x="71.3" y="207.5" text-anchor="end" class="tky">12</text>
<line x1="80.5" x2="90" y1="153.7" y2="153.7" stroke="#000" stroke-width="2.3"/>
<line x1="527.5" x2="537" y1="153.7" y2="153.7" stroke="#000" stroke-width="2.3"/>
<text x="71.3" y="162.6" text-anchor="end" class="tky">14</text>
<line x1="80.5" x2="90" y1="108.9" y2="108.9" stroke="#000" stroke-width="2.3"/>
<line x1="527.5" x2="537" y1="108.9" y2="108.9" stroke="#000" stroke-width="2.3"/>
<text x="71.3" y="117.7" text-anchor="end" class="tky">16</text>
<line x1="80.5" x2="90" y1="64.2" y2="64.2" stroke="#000" stroke-width="2.3"/>
<line x1="527.5" x2="537" y1="64.2" y2="64.2" stroke="#000" stroke-width="2.3"/>
<text x="71.3" y="72.9" text-anchor="end" class="tky">18</text>
<line x1="80.5" x2="90" y1="19.5" y2="19.5" stroke="#000" stroke-width="2.3"/>
<text x="71.3" y="28.0" text-anchor="end" class="tky">20</text>
<line x1="90.0" x2="90.0" y1="466.7" y2="477.4" stroke="#000" stroke-width="2.3"/>
<line x1="124.4" x2="124.4" y1="466.7" y2="472.3" stroke="#000" stroke-width="2.3"/>
<line x1="158.8" x2="158.8" y1="466.7" y2="477.4" stroke="#000" stroke-width="2.3"/>
<line x1="193.2" x2="193.2" y1="466.7" y2="472.3" stroke="#000" stroke-width="2.3"/>
<line x1="227.5" x2="227.5" y1="466.7" y2="477.4" stroke="#000" stroke-width="2.3"/>
<line x1="261.9" x2="261.9" y1="466.7" y2="472.3" stroke="#000" stroke-width="2.3"/>
<line x1="296.3" x2="296.3" y1="466.7" y2="477.4" stroke="#000" stroke-width="2.3"/>
<line x1="330.7" x2="330.7" y1="466.7" y2="472.3" stroke="#000" stroke-width="2.3"/>
<line x1="365.1" x2="365.1" y1="466.7" y2="477.4" stroke="#000" stroke-width="2.3"/>
<line x1="399.5" x2="399.5" y1="466.7" y2="472.3" stroke="#000" stroke-width="2.3"/>
<line x1="433.8" x2="433.8" y1="466.7" y2="477.4" stroke="#000" stroke-width="2.3"/>
<line x1="468.2" x2="468.2" y1="466.7" y2="472.3" stroke="#000" stroke-width="2.3"/>
<line x1="502.6" x2="502.6" y1="466.7" y2="477.4" stroke="#000" stroke-width="2.3"/>
<line x1="537.0" x2="537.0" y1="466.7" y2="477.4" stroke="#000" stroke-width="2.3"/>
<text x="90.5" y="505.6" text-anchor="middle" class="tk" style="letter-spacing:1.1px">0</text>
<text x="159.3" y="505.6" text-anchor="middle" class="tk" style="letter-spacing:1.1px">20</text>
<text x="228.1" y="505.6" text-anchor="middle" class="tk" style="letter-spacing:1.1px">40</text>
<text x="296.9" y="505.6" text-anchor="middle" class="tk" style="letter-spacing:1.1px">60</text>
<text x="365.6" y="505.6" text-anchor="middle" class="tk" style="letter-spacing:1.1px">80</text>
<text x="434.4" y="505.6" text-anchor="middle" class="tk" style="letter-spacing:1.1px">100</text>
<text x="503.2" y="505.6" text-anchor="middle" class="tk" style="letter-spacing:1.1px">120</text>
<line x1="571.4" x2="571.4" y1="466.7" y2="472.3" stroke="#000" stroke-width="2.3"/>
<line x1="605.7" x2="605.7" y1="466.7" y2="477.4" stroke="#000" stroke-width="2.3"/>
<line x1="640.1" x2="640.1" y1="466.7" y2="472.3" stroke="#000" stroke-width="2.3"/>
<line x1="674.4" x2="674.4" y1="466.7" y2="477.4" stroke="#000" stroke-width="2.3"/>
<line x1="708.8" x2="708.8" y1="466.7" y2="472.3" stroke="#000" stroke-width="2.3"/>
<line x1="743.2" x2="743.2" y1="466.7" y2="477.4" stroke="#000" stroke-width="2.3"/>
<line x1="777.5" x2="777.5" y1="466.7" y2="472.3" stroke="#000" stroke-width="2.3"/>
<line x1="811.9" x2="811.9" y1="466.7" y2="477.4" stroke="#000" stroke-width="2.3"/>
<line x1="846.3" x2="846.3" y1="466.7" y2="472.3" stroke="#000" stroke-width="2.3"/>
<line x1="880.6" x2="880.6" y1="466.7" y2="477.4" stroke="#000" stroke-width="2.3"/>
<line x1="915.0" x2="915.0" y1="466.7" y2="472.3" stroke="#000" stroke-width="2.3"/>
<line x1="949.3" x2="949.3" y1="466.7" y2="477.4" stroke="#000" stroke-width="2.3"/>
<text x="537.5" y="505.6" text-anchor="middle" class="tk" style="letter-spacing:1.1px">0</text>
<text x="606.3" y="505.6" text-anchor="middle" class="tk" style="letter-spacing:1.1px">20</text>
<text x="675.0" y="505.6" text-anchor="middle" class="tk" style="letter-spacing:1.1px">40</text>
<text x="743.7" y="505.6" text-anchor="middle" class="tk" style="letter-spacing:1.1px">60</text>
<text x="812.4" y="505.6" text-anchor="middle" class="tk" style="letter-spacing:1.1px">80</text>
<text x="881.2" y="505.6" text-anchor="middle" class="tk" style="letter-spacing:1.1px">100</text>
<text x="949.9" y="505.6" text-anchor="middle" class="tk" style="letter-spacing:1.1px">120</text>
<text x="313.5" y="559.9" text-anchor="middle" class="ti" textLength="173.5" lengthAdjust="spacing">(a)SDSD(ms)</text>
<text x="760.4" y="559.9" text-anchor="middle" class="ti" textLength="173.5" lengthAdjust="spacing">(b)SDSD(ms)</text>
<text transform="translate(28.3,242) rotate(-90)" text-anchor="middle" class="ti" textLength="78" lengthAdjust="spacing">Count</text>
<rect x="694.3" y="37.8" width="263.9000000000001" height="73.5" fill="#fff" stroke="#000" stroke-width="2.2"/>
<rect x="703" y="44.3" width="50.5" height="24.200000000000003" rx="0" fill="#72c8fd" stroke="#0a0aff" stroke-width="1.5"/>
<rect x="703" y="78.5" width="50.5" height="24.5" rx="0" fill="#fda6c4" stroke="#f81c1c" stroke-width="1.5"/>
<text x="768" y="66.7" class="lg" textLength="186" lengthAdjust="spacingAndGlyphs">Nonfatigue state</text>
<text x="768" y="101.1" class="lg" textLength="143" lengthAdjust="spacingAndGlyphs">Fatigue state</text>
<rect x="1087.7" y="19.5" width="896.8" height="447.2" fill="#f6f6f6"/>
<line x1="1087.7" x2="1984.5" y1="377.3" y2="377.3" stroke="#5e5e5e" stroke-width="1.1" stroke-dasharray="5 3.15"/>
<line x1="1087.7" x2="1984.5" y1="287.8" y2="287.8" stroke="#858585" stroke-width="1.6" stroke-dasharray="5 3.15"/>
<line x1="1087.7" x2="1984.5" y1="198.4" y2="198.4" stroke="#9c9c9c" stroke-width="2" stroke-dasharray="5 3.15"/>
<line x1="1087.7" x2="1984.5" y1="108.9" y2="108.9" stroke="#9c9c9c" stroke-width="2" stroke-dasharray="5 3.15"/>
<rect x="1087.7" y="341.5" width="37.4" height="125.2" fill="#72c8fd" stroke="#0a0aff" stroke-width="2.6"/>
<rect x="1125.1" y="404.1" width="37.4" height="62.6" fill="#72c8fd" stroke="#0a0aff" stroke-width="2.6"/>
<rect x="1162.5" y="404.1" width="37.4" height="62.6" fill="#72c8fd" stroke="#0a0aff" stroke-width="2.6"/>
<rect x="1199.8" y="404.1" width="37.4" height="62.6" fill="#72c8fd" stroke="#0a0aff" stroke-width="2.6"/>
<rect x="1237.2" y="457.8" width="37.4" height="8.9" fill="#72c8fd" stroke="#0a0aff" stroke-width="2.6"/>
<rect x="1274.6" y="457.8" width="37.4" height="8.9" fill="#72c8fd" stroke="#0a0aff" stroke-width="2.6"/>
<rect x="1349.3" y="457.8" width="37.4" height="8.9" fill="#72c8fd" stroke="#0a0aff" stroke-width="2.6"/>
<rect x="1087.7" y="91.1" width="37.4" height="250.4" fill="#fda6c4" stroke="#f81c1c" stroke-width="2.6"/>
<rect x="1125.1" y="350.4" width="37.4" height="53.7" fill="#fda6c4" stroke="#f81c1c" stroke-width="2.6"/>
<rect x="1162.5" y="386.2" width="37.4" height="17.9" fill="#fda6c4" stroke="#f81c1c" stroke-width="2.6"/>
<rect x="1199.8" y="395.1" width="37.4" height="8.9" fill="#fda6c4" stroke="#f81c1c" stroke-width="2.6"/>
<rect x="1237.2" y="448.8" width="37.4" height="8.9" fill="#fda6c4" stroke="#f81c1c" stroke-width="2.6"/>
<rect x="1536.2" y="404.1" width="37.4" height="62.6" fill="#72c8fd" stroke="#0a0aff" stroke-width="2.6"/>
<rect x="1573.6" y="439.9" width="37.4" height="26.8" fill="#72c8fd" stroke="#0a0aff" stroke-width="2.6"/>
<rect x="1610.9" y="413.0" width="37.4" height="53.7" fill="#72c8fd" stroke="#0a0aff" stroke-width="2.6"/>
<rect x="1648.3" y="413.0" width="37.4" height="53.7" fill="#72c8fd" stroke="#0a0aff" stroke-width="2.6"/>
<rect x="1685.6" y="448.8" width="37.4" height="17.9" fill="#72c8fd" stroke="#0a0aff" stroke-width="2.6"/>
<rect x="1723.0" y="457.8" width="37.4" height="8.9" fill="#72c8fd" stroke="#0a0aff" stroke-width="2.6"/>
<rect x="1760.3" y="457.8" width="37.4" height="8.9" fill="#72c8fd" stroke="#0a0aff" stroke-width="2.6"/>
<rect x="1835.1" y="457.8" width="37.4" height="8.9" fill="#72c8fd" stroke="#0a0aff" stroke-width="2.6"/>
<rect x="1536.2" y="207.3" width="37.4" height="196.8" fill="#fda6c4" stroke="#f81c1c" stroke-width="2.6"/>
<rect x="1573.6" y="413.0" width="37.4" height="26.8" fill="#fda6c4" stroke="#f81c1c" stroke-width="2.6"/>
<rect x="1610.9" y="404.1" width="37.4" height="8.9" fill="#fda6c4" stroke="#f81c1c" stroke-width="2.6"/>
<rect x="1648.3" y="404.1" width="37.4" height="8.9" fill="#fda6c4" stroke="#f81c1c" stroke-width="2.6"/>
<line x1="1087.7" x2="1984.5" y1="377.3" y2="377.3" stroke="#666" stroke-opacity="0.2" stroke-width="1.8" stroke-dasharray="5 3.15"/>
<line x1="1087.7" x2="1984.5" y1="287.8" y2="287.8" stroke="#666" stroke-opacity="0.2" stroke-width="1.8" stroke-dasharray="5 3.15"/>
<line x1="1087.7" x2="1984.5" y1="198.4" y2="198.4" stroke="#666" stroke-opacity="0.2" stroke-width="1.8" stroke-dasharray="5 3.15"/>
<line x1="1087.7" x2="1984.5" y1="108.9" y2="108.9" stroke="#666" stroke-opacity="0.2" stroke-width="1.8" stroke-dasharray="5 3.15"/>
<path d="M1088.0,389.0 L1088.5,387.6 L1088.9,386.1 L1089.4,384.7 L1089.9,383.3 L1090.3,381.9 L1090.8,380.4 L1091.2,379.0 L1091.7,377.6 L1092.1,376.1 L1092.5,374.7 L1092.9,373.2 L1093.3,371.8 L1093.8,370.4 L1094.2,368.9 L1094.7,367.5 L1095.1,366.1 L1095.7,364.7 L1096.2,363.3 L1096.8,361.9 L1097.5,360.6 L1098.2,359.2 L1098.9,357.9 L1099.6,356.6 L1100.4,355.3 L1101.2,354.1 L1102.0,352.8 L1102.9,351.6 L1103.7,350.4 L1104.7,349.2 L1105.6,348.0 L1106.6,346.9 L1107.7,345.9 L1108.8,344.9 L1110.0,344.0 L1111.3,343.2 L1112.6,342.5 L1113.9,342.0 L1115.3,341.6 L1116.8,341.4 L1118.2,341.4 L1119.7,341.5 L1121.1,341.9 L1122.5,342.4 L1123.8,343.0 L1125.1,343.8 L1126.3,344.6 L1127.4,345.6 L1128.6,346.6 L1129.7,347.6 L1130.7,348.6 L1131.8,349.7 L1132.9,350.8 L1133.9,351.9 L1134.9,353.0 L1136.0,354.1 L1137.0,355.1 L1138.1,356.2 L1139.2,357.2 L1140.3,358.2 L1141.5,359.1 L1142.7,360.1 L1143.9,361.0 L1145.2,361.8 L1146.4,362.6 L1147.7,363.3 L1149.1,364.0 L1150.4,364.6 L1151.8,365.1 L1153.3,365.5 L1154.7,365.9 L1156.2,366.3 L1157.6,366.5 L1159.1,366.7 L1160.6,366.8 L1162.1,366.8 L1163.6,366.7 L1165.1,366.7 L1166.6,366.5 L1168.1,366.4 L1169.6,366.2 L1171.1,366.0 L1172.6,365.8 L1174.0,365.5 L1175.5,365.3 L1177.0,365.0 L1178.5,364.8 L1180.0,364.6 L1181.5,364.4 L1182.9,364.3 L1184.4,364.2 L1185.9,364.1 L1187.4,364.0 L1188.9,364.1 L1190.4,364.1 L1191.9,364.3 L1193.4,364.6 L1194.8,365.0 L1196.2,365.5 L1197.6,366.0 L1198.9,366.7 L1200.2,367.4 L1201.4,368.3 L1202.6,369.2 L1203.8,370.2 L1204.9,371.2 L1206.0,372.2 L1207.1,373.2 L1208.1,374.3 L1209.2,375.4 L1210.2,376.5 L1211.1,377.7 L1212.1,378.8 L1213.0,380.0 L1214.0,381.2 L1214.9,382.4 L1215.8,383.6 L1216.7,384.8 L1217.6,386.0 L1218.5,387.2 L1219.3,388.4 L1220.2,389.6 L1221.1,390.9 L1222.0,392.1 L1222.8,393.3 L1223.7,394.5 L1224.6,395.7 L1225.5,396.9 L1226.4,398.2 L1227.2,399.4 L1228.1,400.6 L1229.0,401.8 L1229.9,403.0 L1230.7,404.3 L1231.6,405.5 L1232.4,406.7 L1233.2,408.0 L1234.1,409.2 L1234.9,410.5 L1235.7,411.7 L1236.6,413.0 L1237.4,414.2 L1238.3,415.4 L1239.1,416.7 L1240.0,417.9 L1240.9,419.1 L1241.8,420.3 L1242.6,421.5 L1243.5,422.8 L1244.4,423.9 L1245.4,425.1 L1246.3,426.3 L1247.2,427.5 L1248.2,428.7 L1249.1,429.8 L1250.1,431.0 L1251.1,432.1 L1252.1,433.2 L1253.1,434.3 L1254.1,435.4 L1255.2,436.5 L1256.3,437.5 L1257.4,438.5 L1258.5,439.5 L1259.6,440.5 L1260.8,441.5 L1261.9,442.4 L1263.1,443.3 L1264.4,444.1 L1265.6,445.0 L1266.9,445.8 L1268.2,446.6 L1269.5,447.3 L1270.8,448.0 L1272.1,448.7 L1273.5,449.4 L1274.8,450.0 L1276.2,450.6 L1277.6,451.3 L1278.9,451.9 L1280.3,452.5 L1281.7,453.2 L1283.0,453.8 L1284.4,454.3 L1285.8,454.8 L1287.2,455.2 L1288.7,455.6 L1290.1,455.9 L1291.6,456.1 L1293.1,456.4 L1294.6,456.6 L1296.1,456.8 L1297.6,457.0 L1299.1,457.2 L1300.5,457.4 L1302.0,457.6 L1303.5,457.8 L1305.0,458.0 L1306.5,458.2 L1308.0,458.3 L1309.5,458.5 L1311.0,458.7 L1312.5,458.8 L1314.0,459.0 L1315.5,459.1 L1316.9,459.2 L1318.4,459.4 L1319.9,459.4 L1321.4,459.5 L1322.9,459.6 L1324.4,459.7 L1325.9,459.7 L1327.4,459.7 L1328.9,459.8 L1330.4,459.8 L1331.9,459.7 L1333.4,459.7 L1334.9,459.7 L1336.4,459.6 L1337.9,459.5 L1339.4,459.4 L1340.9,459.3 L1342.4,459.2 L1343.9,459.1 L1345.4,459.0 L1346.9,458.8 L1348.4,458.7 L1349.9,458.6 L1351.4,458.6 L1352.9,458.5 L1354.4,458.5 L1355.9,458.6 L1357.4,458.6 L1358.9,458.6 L1360.4,458.7 L1361.9,458.7 L1363.4,458.8 L1364.9,458.9 L1366.4,459.1 L1367.8,459.3 L1369.3,459.5 L1370.8,459.8 L1372.3,460.0 L1373.8,460.3 L1375.3,460.5 L1376.7,460.8 L1378.2,461.1 L1379.7,461.4 L1381.1,461.7 L1382.6,461.9 L1384.1,462.2 L1385.6,462.5 L1387.0,462.7 L1388.5,463.0 L1390.0,463.2 L1391.5,463.4 L1393.0,463.7 L1394.5,463.9 L1396.0,464.0 L1397.4,464.2 L1398.9,464.4 L1400.4,464.6 L1401.9,464.7 L1403.4,464.8 L1404.9,465.0 L1406.4,465.1 L1407.9,465.2 L1409.4,465.3 L1410.9,465.3 L1412.4,465.4 L1413.9,465.5 L1415.4,465.5 L1416.9,465.6 L1418.4,465.6 L1419.9,465.7 L1421.4,465.7 L1422.9,465.7 L1424.4,465.7 L1425.9,465.7 L1427.4,465.7 L1428.9,465.7" fill="none" stroke="#0a0a96" stroke-width="3.4" stroke-linejoin="round" stroke-linecap="butt"/>
<path d="M1088.0,256.9 L1088.2,255.4 L1088.4,253.9 L1088.6,252.4 L1088.8,250.9 L1089.1,249.5 L1089.3,248.0 L1089.5,246.5 L1089.8,245.0 L1090.1,243.5 L1090.3,242.1 L1090.6,240.6 L1090.9,239.1 L1091.2,237.7 L1091.5,236.2 L1091.8,234.7 L1092.1,233.2 L1092.5,231.8 L1092.8,230.3 L1093.1,228.8 L1093.5,227.3 L1093.9,225.9 L1094.3,224.4 L1094.7,223.0 L1095.2,221.6 L1095.8,220.3 L1096.5,219.0 L1097.3,217.8 L1098.2,216.8 L1099.2,216.2 L1100.3,215.9 L1101.3,216.2 L1102.3,216.8 L1103.2,217.8 L1103.9,219.0 L1104.5,220.3 L1105.1,221.7 L1105.6,223.1 L1106.1,224.6 L1106.5,226.0 L1106.9,227.4 L1107.3,228.9 L1107.7,230.3 L1108.1,231.8 L1108.4,233.2 L1108.8,234.7 L1109.1,236.2 L1109.5,237.6 L1109.8,239.1 L1110.1,240.6 L1110.5,242.0 L1110.8,243.5 L1111.1,245.0 L1111.4,246.4 L1111.8,247.9 L1112.1,249.4 L1112.4,250.8 L1112.7,252.3 L1113.0,253.8 L1113.3,255.2 L1113.5,256.7 L1113.8,258.2 L1114.1,259.7 L1114.4,261.1 L1114.7,262.6 L1115.0,264.1 L1115.3,265.5 L1115.6,267.0 L1115.9,268.5 L1116.2,270.0 L1116.5,271.4 L1116.8,272.9 L1117.1,274.4 L1117.4,275.8 L1117.7,277.3 L1118.0,278.8 L1118.3,280.2 L1118.6,281.7 L1119.0,283.2 L1119.3,284.6 L1119.6,286.1 L1119.9,287.6 L1120.3,289.0 L1120.6,290.5 L1121.0,291.9 L1121.4,293.4 L1121.7,294.9 L1122.1,296.3 L1122.4,297.8 L1122.8,299.2 L1123.1,300.7 L1123.5,302.1 L1123.8,303.6 L1124.2,305.1 L1124.5,306.5 L1124.8,308.0 L1125.1,309.5 L1125.4,310.9 L1125.8,312.4 L1126.1,313.9 L1126.4,315.3 L1126.7,316.8 L1127.0,318.3 L1127.2,319.7 L1127.5,321.2 L1127.8,322.7 L1128.1,324.2 L1128.4,325.6 L1128.7,327.1 L1129.0,328.6 L1129.3,330.0 L1129.6,331.5 L1129.9,333.0 L1130.3,334.4 L1130.6,335.9 L1130.9,337.4 L1131.3,338.8 L1131.7,340.3 L1132.0,341.7 L1132.4,343.2 L1132.8,344.6 L1133.1,346.1 L1133.5,347.5 L1133.9,349.0 L1134.3,350.4 L1134.8,351.9 L1135.2,353.3 L1135.6,354.7 L1136.0,356.2 L1136.5,357.6 L1136.9,359.0 L1137.4,360.5 L1137.9,361.9 L1138.4,363.3 L1138.9,364.7 L1139.4,366.1 L1139.9,367.5 L1140.4,368.9 L1141.0,370.3 L1141.6,371.7 L1142.2,373.1 L1142.8,374.5 L1143.4,375.8 L1144.1,377.2 L1144.8,378.5 L1145.5,379.8 L1146.3,381.1 L1147.0,382.4 L1147.8,383.7 L1148.6,384.9 L1149.5,386.2 L1150.3,387.4 L1151.1,388.7 L1152.0,389.9 L1152.9,391.1 L1153.8,392.3 L1154.7,393.5 L1155.6,394.7 L1156.5,395.9 L1157.4,397.1 L1158.3,398.3 L1159.2,399.5 L1160.1,400.7 L1161.0,401.9 L1161.8,403.1 L1162.7,404.4 L1163.6,405.6 L1164.5,406.8 L1165.3,408.0 L1166.2,409.3 L1167.0,410.5 L1167.8,411.8 L1168.6,413.0 L1169.4,414.3 L1170.2,415.6 L1171.0,416.9 L1171.7,418.2 L1172.5,419.4 L1173.3,420.7 L1174.1,422.0 L1174.8,423.3 L1175.6,424.6 L1176.4,425.9 L1177.2,427.2 L1177.9,428.4 L1178.7,429.7 L1179.5,431.0 L1180.3,432.3 L1181.1,433.6 L1181.9,434.8 L1182.8,436.0 L1183.6,437.3 L1184.5,438.5 L1185.4,439.7 L1186.3,440.9 L1187.2,442.1 L1188.2,443.3 L1189.2,444.4 L1190.2,445.5 L1191.2,446.6 L1192.3,447.7 L1193.4,448.7 L1194.5,449.7 L1195.7,450.6 L1196.9,451.4 L1198.2,452.2 L1199.5,452.9 L1200.9,453.4 L1202.3,453.9 L1203.8,454.2 L1205.2,454.4 L1206.7,454.5 L1208.2,454.5 L1209.7,454.4 L1211.2,454.2 L1212.6,453.9 L1214.1,453.5 L1215.5,453.1 L1216.9,452.7 L1218.4,452.2 L1219.8,451.7 L1221.2,451.2 L1222.6,450.8 L1224.1,450.4 L1225.6,450.0 L1227.0,449.6 L1228.5,449.3 L1230.0,449.1 L1231.4,449.0 L1232.9,448.9 L1234.4,449.0 L1235.9,449.1 L1237.4,449.3 L1238.9,449.5 L1240.3,449.8 L1241.8,450.2 L1243.2,450.6 L1244.6,451.0 L1246.0,451.5 L1247.4,452.1 L1248.8,452.7 L1250.2,453.3 L1251.6,453.9 L1252.9,454.6 L1254.3,455.2 L1255.6,455.9 L1257.0,456.5 L1258.3,457.2 L1259.7,457.9 L1261.0,458.5 L1262.4,459.2 L1263.7,459.8 L1265.1,460.5 L1266.5,461.1 L1267.8,461.7 L1269.2,462.2 L1270.6,462.8 L1272.0,463.3 L1273.5,463.7 L1274.9,464.1 L1276.4,464.5 L1277.8,464.8 L1279.3,465.1" fill="none" stroke="#dc0a50" stroke-width="3.4" stroke-linejoin="round" stroke-linecap="butt"/>
<path d="M1536.6,435.5 L1537.7,434.5 L1538.9,433.5 L1540.0,432.6 L1541.2,431.6 L1542.3,430.7 L1543.5,429.7 L1544.7,428.8 L1545.9,427.9 L1547.1,427.0 L1548.3,426.0 L1549.5,425.2 L1550.7,424.3 L1551.9,423.4 L1553.2,422.6 L1554.5,421.9 L1555.8,421.1 L1557.1,420.4 L1558.5,419.8 L1559.8,419.1 L1561.2,418.6 L1562.6,418.0 L1564.0,417.6 L1565.5,417.2 L1566.9,416.8 L1568.4,416.5 L1569.9,416.2 L1571.3,416.0 L1572.8,415.8 L1574.3,415.6 L1575.8,415.4 L1577.3,415.3 L1578.8,415.2 L1580.3,415.1 L1581.8,415.0 L1583.3,414.9 L1584.8,414.8 L1586.3,414.7 L1587.8,414.6 L1589.3,414.5 L1590.8,414.4 L1592.3,414.3 L1593.8,414.2 L1595.3,414.0 L1596.8,413.9 L1598.3,413.7 L1599.7,413.5 L1601.2,413.4 L1602.7,413.1 L1604.2,412.9 L1605.7,412.6 L1607.1,412.3 L1608.6,412.0 L1610.1,411.7 L1611.5,411.3 L1613.0,411.0 L1614.4,410.6 L1615.9,410.2 L1617.3,409.7 L1618.7,409.3 L1620.2,408.8 L1621.6,408.4 L1623.0,407.9 L1624.5,407.5 L1625.9,407.1 L1627.4,406.7 L1628.8,406.3 L1630.3,405.9 L1631.7,405.6 L1633.2,405.3 L1634.7,405.0 L1636.1,404.8 L1637.6,404.6 L1639.1,404.4 L1640.6,404.3 L1642.1,404.2 L1643.6,404.1 L1645.1,404.1 L1646.6,404.2 L1648.1,404.3 L1649.6,404.5 L1651.1,404.7 L1652.5,404.9 L1654.0,405.3 L1655.5,405.6 L1656.9,406.0 L1658.3,406.5 L1659.7,407.1 L1661.1,407.7 L1662.4,408.3 L1663.8,409.0 L1665.1,409.7 L1666.4,410.4 L1667.7,411.2 L1668.9,412.0 L1670.2,412.9 L1671.4,413.7 L1672.6,414.6 L1673.8,415.5 L1675.0,416.4 L1676.2,417.3 L1677.4,418.3 L1678.5,419.2 L1679.7,420.2 L1680.8,421.2 L1682.0,422.1 L1683.2,423.1 L1684.3,424.0 L1685.5,425.0 L1686.7,425.9 L1687.9,426.8 L1689.1,427.7 L1690.3,428.5 L1691.5,429.4 L1692.8,430.3 L1694.0,431.1 L1695.2,432.0 L1696.5,432.8 L1697.7,433.7 L1699.0,434.5 L1700.2,435.3 L1701.5,436.2 L1702.7,437.0 L1704.0,437.8 L1705.3,438.5 L1706.6,439.3 L1707.9,440.1 L1709.2,440.8 L1710.5,441.5 L1711.8,442.2 L1713.2,442.9 L1714.5,443.6 L1715.8,444.2 L1717.2,444.9 L1718.6,445.5 L1720.0,446.0 L1721.3,446.6 L1722.7,447.1 L1724.2,447.7 L1725.6,448.1 L1727.0,448.6 L1728.4,449.1 L1729.9,449.5 L1731.3,450.0 L1732.7,450.4 L1734.2,450.8 L1735.6,451.2 L1737.1,451.5 L1738.5,451.9 L1740.0,452.2 L1741.5,452.5 L1742.9,452.8 L1744.4,453.1 L1745.9,453.4 L1747.4,453.6 L1748.9,453.9 L1750.3,454.1 L1751.8,454.3 L1753.3,454.6 L1754.8,454.8 L1756.3,455.1 L1757.7,455.3 L1759.2,455.5 L1760.7,455.8 L1762.2,456.0 L1763.7,456.2 L1765.2,456.4 L1766.6,456.6 L1768.1,456.8 L1769.6,457.0 L1771.1,457.2 L1772.6,457.3 L1774.1,457.5 L1775.6,457.7 L1777.1,457.8 L1778.6,458.0 L1780.1,458.1 L1781.6,458.3 L1783.0,458.4 L1784.5,458.6 L1786.0,458.7 L1787.5,458.9 L1789.0,459.0 L1790.5,459.1 L1792.0,459.3 L1793.5,459.4 L1795.0,459.5 L1796.5,459.7 L1798.0,459.8 L1799.5,459.9 L1801.0,460.0 L1802.5,460.2 L1804.0,460.3 L1805.5,460.4 L1807.0,460.5 L1808.4,460.6 L1809.9,460.8 L1811.4,460.9 L1812.9,461.0 L1814.4,461.1 L1815.9,461.2 L1817.4,461.3 L1818.9,461.4 L1820.4,461.4 L1821.9,461.5 L1823.4,461.5 L1824.9,461.6 L1826.4,461.6 L1827.9,461.7 L1829.4,461.7 L1830.9,461.7 L1832.4,461.8 L1833.9,461.8 L1835.4,461.8 L1836.9,461.9 L1838.4,461.9 L1839.9,461.9 L1841.4,462.0 L1842.9,462.0 L1844.4,462.0 L1845.9,462.1 L1847.4,462.1 L1848.9,462.2 L1850.4,462.2 L1851.9,462.3 L1853.4,462.4 L1854.9,462.4 L1856.4,462.5 L1857.9,462.6 L1859.4,462.7 L1860.9,462.8 L1862.4,462.9 L1863.9,463.0 L1865.4,463.1 L1866.9,463.2 L1868.4,463.3 L1869.9,463.4 L1871.4,463.5 L1872.9,463.6 L1874.4,463.7 L1875.9,463.8 L1877.4,464.0 L1878.8,464.1 L1880.3,464.2 L1881.8,464.3 L1883.3,464.4 L1884.8,464.6 L1886.3,464.7 L1887.8,464.8 L1889.3,464.9 L1890.8,465.0 L1892.3,465.1 L1893.8,465.2 L1895.3,465.3 L1896.8,465.4 L1898.3,465.4 L1899.8,465.5 L1901.3,465.6 L1902.8,465.7 L1904.3,465.7 L1905.8,465.7 L1907.3,465.7 L1908.8,465.7 L1910.3,465.7 L1911.8,465.7 L1913.3,465.7 L1914.8,465.7 L1916.3,465.7 L1917.8,465.7 L1919.3,465.7 L1920.8,465.7 L1922.3,465.7 L1923.8,465.7 L1925.3,465.7 L1926.8,465.7 L1928.3,465.7 L1929.8,465.7 L1931.3,465.7 L1932.8,465.7 L1934.3,465.7" fill="none" stroke="#0a0a96" stroke-width="3.4" stroke-linejoin="round" stroke-linecap="butt"/>
<path d="M1536.6,299.2 L1536.8,297.7 L1537.0,296.2 L1537.3,294.7 L1537.5,293.3 L1537.8,291.8 L1538.0,290.3 L1538.3,288.8 L1538.6,287.4 L1538.9,285.9 L1539.2,284.4 L1539.5,282.9 L1539.8,281.5 L1540.1,280.0 L1540.5,278.5 L1540.9,277.1 L1541.3,275.6 L1541.8,274.2 L1542.4,272.9 L1543.1,271.7 L1543.9,270.7 L1544.8,270.0 L1545.8,269.8 L1546.8,270.0 L1547.7,270.7 L1548.5,271.8 L1549.1,273.0 L1549.7,274.4 L1550.2,275.8 L1550.7,277.2 L1551.1,278.6 L1551.5,280.1 L1551.9,281.5 L1552.3,283.0 L1552.6,284.5 L1553.0,285.9 L1553.3,287.4 L1553.7,288.8 L1554.0,290.3 L1554.3,291.8 L1554.7,293.2 L1555.0,294.7 L1555.3,296.2 L1555.6,297.6 L1555.9,299.1 L1556.2,300.6 L1556.5,302.0 L1556.8,303.5 L1557.1,305.0 L1557.4,306.4 L1557.8,307.9 L1558.1,309.4 L1558.4,310.9 L1558.7,312.3 L1559.0,313.8 L1559.3,315.3 L1559.6,316.7 L1559.9,318.2 L1560.2,319.7 L1560.5,321.1 L1560.8,322.6 L1561.1,324.1 L1561.4,325.5 L1561.8,327.0 L1562.1,328.5 L1562.4,329.9 L1562.7,331.4 L1563.0,332.9 L1563.3,334.3 L1563.7,335.8 L1564.0,337.3 L1564.3,338.7 L1564.6,340.2 L1564.9,341.7 L1565.2,343.1 L1565.6,344.6 L1565.9,346.1 L1566.1,347.5 L1566.4,349.0 L1566.7,350.5 L1566.9,352.0 L1567.2,353.4 L1567.4,354.9 L1567.7,356.4 L1567.9,357.9 L1568.2,359.4 L1568.4,360.8 L1568.7,362.3 L1569.0,363.8 L1569.3,365.3 L1569.6,366.7 L1569.9,368.2 L1570.3,369.6 L1570.6,371.1 L1571.0,372.6 L1571.3,374.0 L1571.7,375.5 L1572.1,376.9 L1572.4,378.4 L1572.8,379.8 L1573.1,381.3 L1573.5,382.8 L1573.8,384.2 L1574.2,385.7 L1574.6,387.1 L1574.9,388.6 L1575.3,390.0 L1575.7,391.5 L1576.1,392.9 L1576.5,394.4 L1576.9,395.8 L1577.3,397.3 L1577.6,398.7 L1578.1,400.2 L1578.5,401.6 L1578.9,403.1 L1579.3,404.5 L1579.7,405.9 L1580.1,407.4 L1580.6,408.8 L1581.0,410.2 L1581.5,411.7 L1581.9,413.1 L1582.4,414.5 L1582.9,416.0 L1583.4,417.4 L1583.9,418.8 L1584.4,420.2 L1584.9,421.6 L1585.5,423.0 L1586.1,424.4 L1586.7,425.7 L1587.3,427.1 L1587.9,428.5 L1588.5,429.9 L1589.1,431.2 L1589.7,432.6 L1590.4,433.9 L1591.0,435.3 L1591.7,436.7 L1592.3,438.0 L1593.0,439.3 L1593.7,440.7 L1594.4,442.0 L1595.1,443.3 L1595.9,444.6 L1596.6,445.9 L1597.4,447.2 L1598.3,448.4 L1599.1,449.7 L1600.0,450.9 L1600.8,452.1 L1601.8,453.3 L1602.7,454.5 L1603.6,455.7 L1604.7,456.8 L1605.7,457.8 L1606.9,458.8 L1608.1,459.7 L1609.3,460.4 L1610.7,461.0 L1612.1,461.5 L1613.5,461.7 L1614.9,461.9 L1616.4,461.9 L1617.9,461.7 L1619.3,461.5 L1620.7,461.0 L1622.2,460.5 L1623.6,460.0 L1625.0,459.4 L1626.3,458.8 L1627.7,458.2 L1629.1,457.6 L1630.5,457.1 L1631.9,456.6 L1633.4,456.2 L1634.8,455.8 L1636.3,455.5 L1637.7,455.2 L1639.2,455.0 L1640.7,454.9 L1642.2,454.8 L1643.7,454.7 L1645.2,454.7 L1646.7,454.6 L1648.2,454.6 L1649.7,454.6 L1651.2,454.6 L1652.7,454.5 L1654.2,454.5 L1655.7,454.5 L1657.2,454.5 L1658.7,454.5 L1660.2,454.6 L1661.7,454.6 L1663.2,454.7 L1664.7,454.8 L1666.2,454.9 L1667.7,455.1 L1669.1,455.4 L1670.6,455.7 L1672.0,456.2 L1673.4,456.7 L1674.8,457.3 L1676.2,457.9 L1677.5,458.5 L1678.9,459.2 L1680.2,459.8 L1681.6,460.5 L1683.0,461.1 L1684.4,461.6 L1685.8,462.1 L1687.2,462.6 L1688.6,463.0 L1690.1,463.4 L1691.5,463.7 L1693.0,464.0 L1694.5,464.3 L1695.9,464.5 L1697.4,464.7 L1698.9,464.8 L1700.4,465.0" fill="none" stroke="#dc0a50" stroke-width="3.4" stroke-linejoin="round" stroke-linecap="butt"/>
<line x1="1086.2" x2="1985.7" y1="19.5" y2="19.5" stroke="#000" stroke-width="3.3"/>
<line x1="1086.2" x2="1985.7" y1="466.7" y2="466.7" stroke="#000" stroke-width="3.3"/>
<line x1="1087.7" x2="1087.7" y1="19.5" y2="466.7" stroke="#000" stroke-width="3.0"/>
<line x1="1536.2" x2="1536.2" y1="19.5" y2="466.7" stroke="#000" stroke-width="3.0"/>
<line x1="1984.5" x2="1984.5" y1="19.5" y2="472.2" stroke="#000" stroke-width="2.8"/>
<line x1="1078.2" x2="1087.7" y1="466.7" y2="466.7" stroke="#000" stroke-width="3.1"/>
<text x="1070.6" y="476.9" text-anchor="end" class="tky">0</text>
<line x1="1078.2" x2="1087.7" y1="377.3" y2="377.3" stroke="#000" stroke-width="3.1"/>
<line x1="1526.7" x2="1536.2" y1="377.3" y2="377.3" stroke="#000" stroke-width="3.1"/>
<text x="1070.6" y="387.2" text-anchor="end" class="tky">10</text>
<line x1="1078.2" x2="1087.7" y1="287.8" y2="287.8" stroke="#000" stroke-width="3.1"/>
<line x1="1526.7" x2="1536.2" y1="287.8" y2="287.8" stroke="#000" stroke-width="3.1"/>
<text x="1070.6" y="297.4" text-anchor="end" class="tky">20</text>
<line x1="1078.2" x2="1087.7" y1="198.4" y2="198.4" stroke="#000" stroke-width="3.1"/>
<line x1="1526.7" x2="1536.2" y1="198.4" y2="198.4" stroke="#000" stroke-width="3.1"/>
<text x="1070.6" y="207.7" text-anchor="end" class="tky">30</text>
<line x1="1078.2" x2="1087.7" y1="108.9" y2="108.9" stroke="#000" stroke-width="3.1"/>
<line x1="1526.7" x2="1536.2" y1="108.9" y2="108.9" stroke="#000" stroke-width="3.1"/>
<text x="1070.6" y="117.9" text-anchor="end" class="tky">40</text>
<line x1="1078.2" x2="1087.7" y1="19.5" y2="19.5" stroke="#000" stroke-width="3.1"/>
<text x="1070.6" y="28.2" text-anchor="end" class="tky">50</text>
<line x1="1087.7" x2="1087.7" y1="466.7" y2="476.3" stroke="#000" stroke-width="3.1"/>
<line x1="1125.1" x2="1125.1" y1="466.7" y2="471.5" stroke="#000" stroke-width="3.1"/>
<line x1="1162.5" x2="1162.5" y1="466.7" y2="476.3" stroke="#000" stroke-width="3.1"/>
<line x1="1199.8" x2="1199.8" y1="466.7" y2="471.5" stroke="#000" stroke-width="3.1"/>
<line x1="1237.2" x2="1237.2" y1="466.7" y2="476.3" stroke="#000" stroke-width="3.1"/>
<line x1="1274.6" x2="1274.6" y1="466.7" y2="471.5" stroke="#000" stroke-width="3.1"/>
<line x1="1312.0" x2="1312.0" y1="466.7" y2="476.3" stroke="#000" stroke-width="3.1"/>
<line x1="1349.3" x2="1349.3" y1="466.7" y2="471.5" stroke="#000" stroke-width="3.1"/>
<line x1="1386.7" x2="1386.7" y1="466.7" y2="476.3" stroke="#000" stroke-width="3.1"/>
<line x1="1424.1" x2="1424.1" y1="466.7" y2="471.5" stroke="#000" stroke-width="3.1"/>
<line x1="1461.5" x2="1461.5" y1="466.7" y2="476.3" stroke="#000" stroke-width="3.1"/>
<line x1="1498.8" x2="1498.8" y1="466.7" y2="471.5" stroke="#000" stroke-width="3.1"/>
<line x1="1536.2" x2="1536.2" y1="466.7" y2="476.3" stroke="#000" stroke-width="3.1"/>
<text x="1088.5" y="507.1" text-anchor="middle" class="tk" style="letter-spacing:1.7px">0</text>
<text x="1163.3" y="507.1" text-anchor="middle" class="tk" style="letter-spacing:1.7px">10</text>
<text x="1238.0" y="507.1" text-anchor="middle" class="tk" style="letter-spacing:1.7px">20</text>
<text x="1312.8" y="507.1" text-anchor="middle" class="tk" style="letter-spacing:1.7px">30</text>
<text x="1387.5" y="507.1" text-anchor="middle" class="tk" style="letter-spacing:1.7px">40</text>
<text x="1462.3" y="507.1" text-anchor="middle" class="tk" style="letter-spacing:1.7px">50</text>
<text x="1537.0" y="507.1" text-anchor="middle" class="tk" style="letter-spacing:1.7px">60</text>
<line x1="1610.9" x2="1610.9" y1="466.7" y2="471.5" stroke="#000" stroke-width="3.1"/>
<line x1="1685.6" x2="1685.6" y1="466.7" y2="476.3" stroke="#000" stroke-width="3.1"/>
<line x1="1760.3" x2="1760.3" y1="466.7" y2="471.5" stroke="#000" stroke-width="3.1"/>
<line x1="1835.1" x2="1835.1" y1="466.7" y2="476.3" stroke="#000" stroke-width="3.1"/>
<line x1="1909.8" x2="1909.8" y1="466.7" y2="471.5" stroke="#000" stroke-width="3.1"/>
<line x1="1984.5" x2="1984.5" y1="466.7" y2="476.3" stroke="#000" stroke-width="3.1"/>
<text x="1537.0" y="507.1" text-anchor="middle" class="tk" style="letter-spacing:1.7px">0</text>
<text x="1611.8" y="507.1" text-anchor="middle" class="tk" style="letter-spacing:1.7px">10</text>
<text x="1686.5" y="507.1" text-anchor="middle" class="tk" style="letter-spacing:1.7px">20</text>
<text x="1761.2" y="507.1" text-anchor="middle" class="tk" style="letter-spacing:1.7px">30</text>
<text x="1835.9" y="507.1" text-anchor="middle" class="tk" style="letter-spacing:1.7px">40</text>
<text x="1910.6" y="507.1" text-anchor="middle" class="tk" style="letter-spacing:1.7px">50</text>
<text x="1985.3" y="507.1" text-anchor="middle" class="tk" style="letter-spacing:1.7px">60</text>
<text x="1312.0" y="559.9" text-anchor="middle" class="ti" textLength="186" lengthAdjust="spacing">(a)PNN50(%)</text>
<text x="1760.3" y="559.9" text-anchor="middle" class="ti" textLength="186" lengthAdjust="spacing">(b)PNN50(%)</text>
<text transform="translate(1027,242) rotate(-90)" text-anchor="middle" class="ti" textLength="78" lengthAdjust="spacing">Count</text>
<rect x="1693" y="38.8" width="266.29999999999995" height="73.5" fill="#fff" stroke="#000" stroke-width="3.2"/>
<rect x="1703.3" y="43.8" width="50.40000000000009" height="25.200000000000003" rx="2" fill="#72c8fd" stroke="#0a0aff" stroke-width="2.6"/>
<rect x="1703.3" y="78.6" width="50.40000000000009" height="25.200000000000003" rx="2" fill="#fda6c4" stroke="#f81c1c" stroke-width="2.6"/>
<text x="1768" y="66.7" class="lg" textLength="186" lengthAdjust="spacingAndGlyphs">Nonfatigue state</text>
<text x="1768" y="101.1" class="lg" textLength="143" lengthAdjust="spacingAndGlyphs">Fatigue state</text>
</svg>
</body></html>
